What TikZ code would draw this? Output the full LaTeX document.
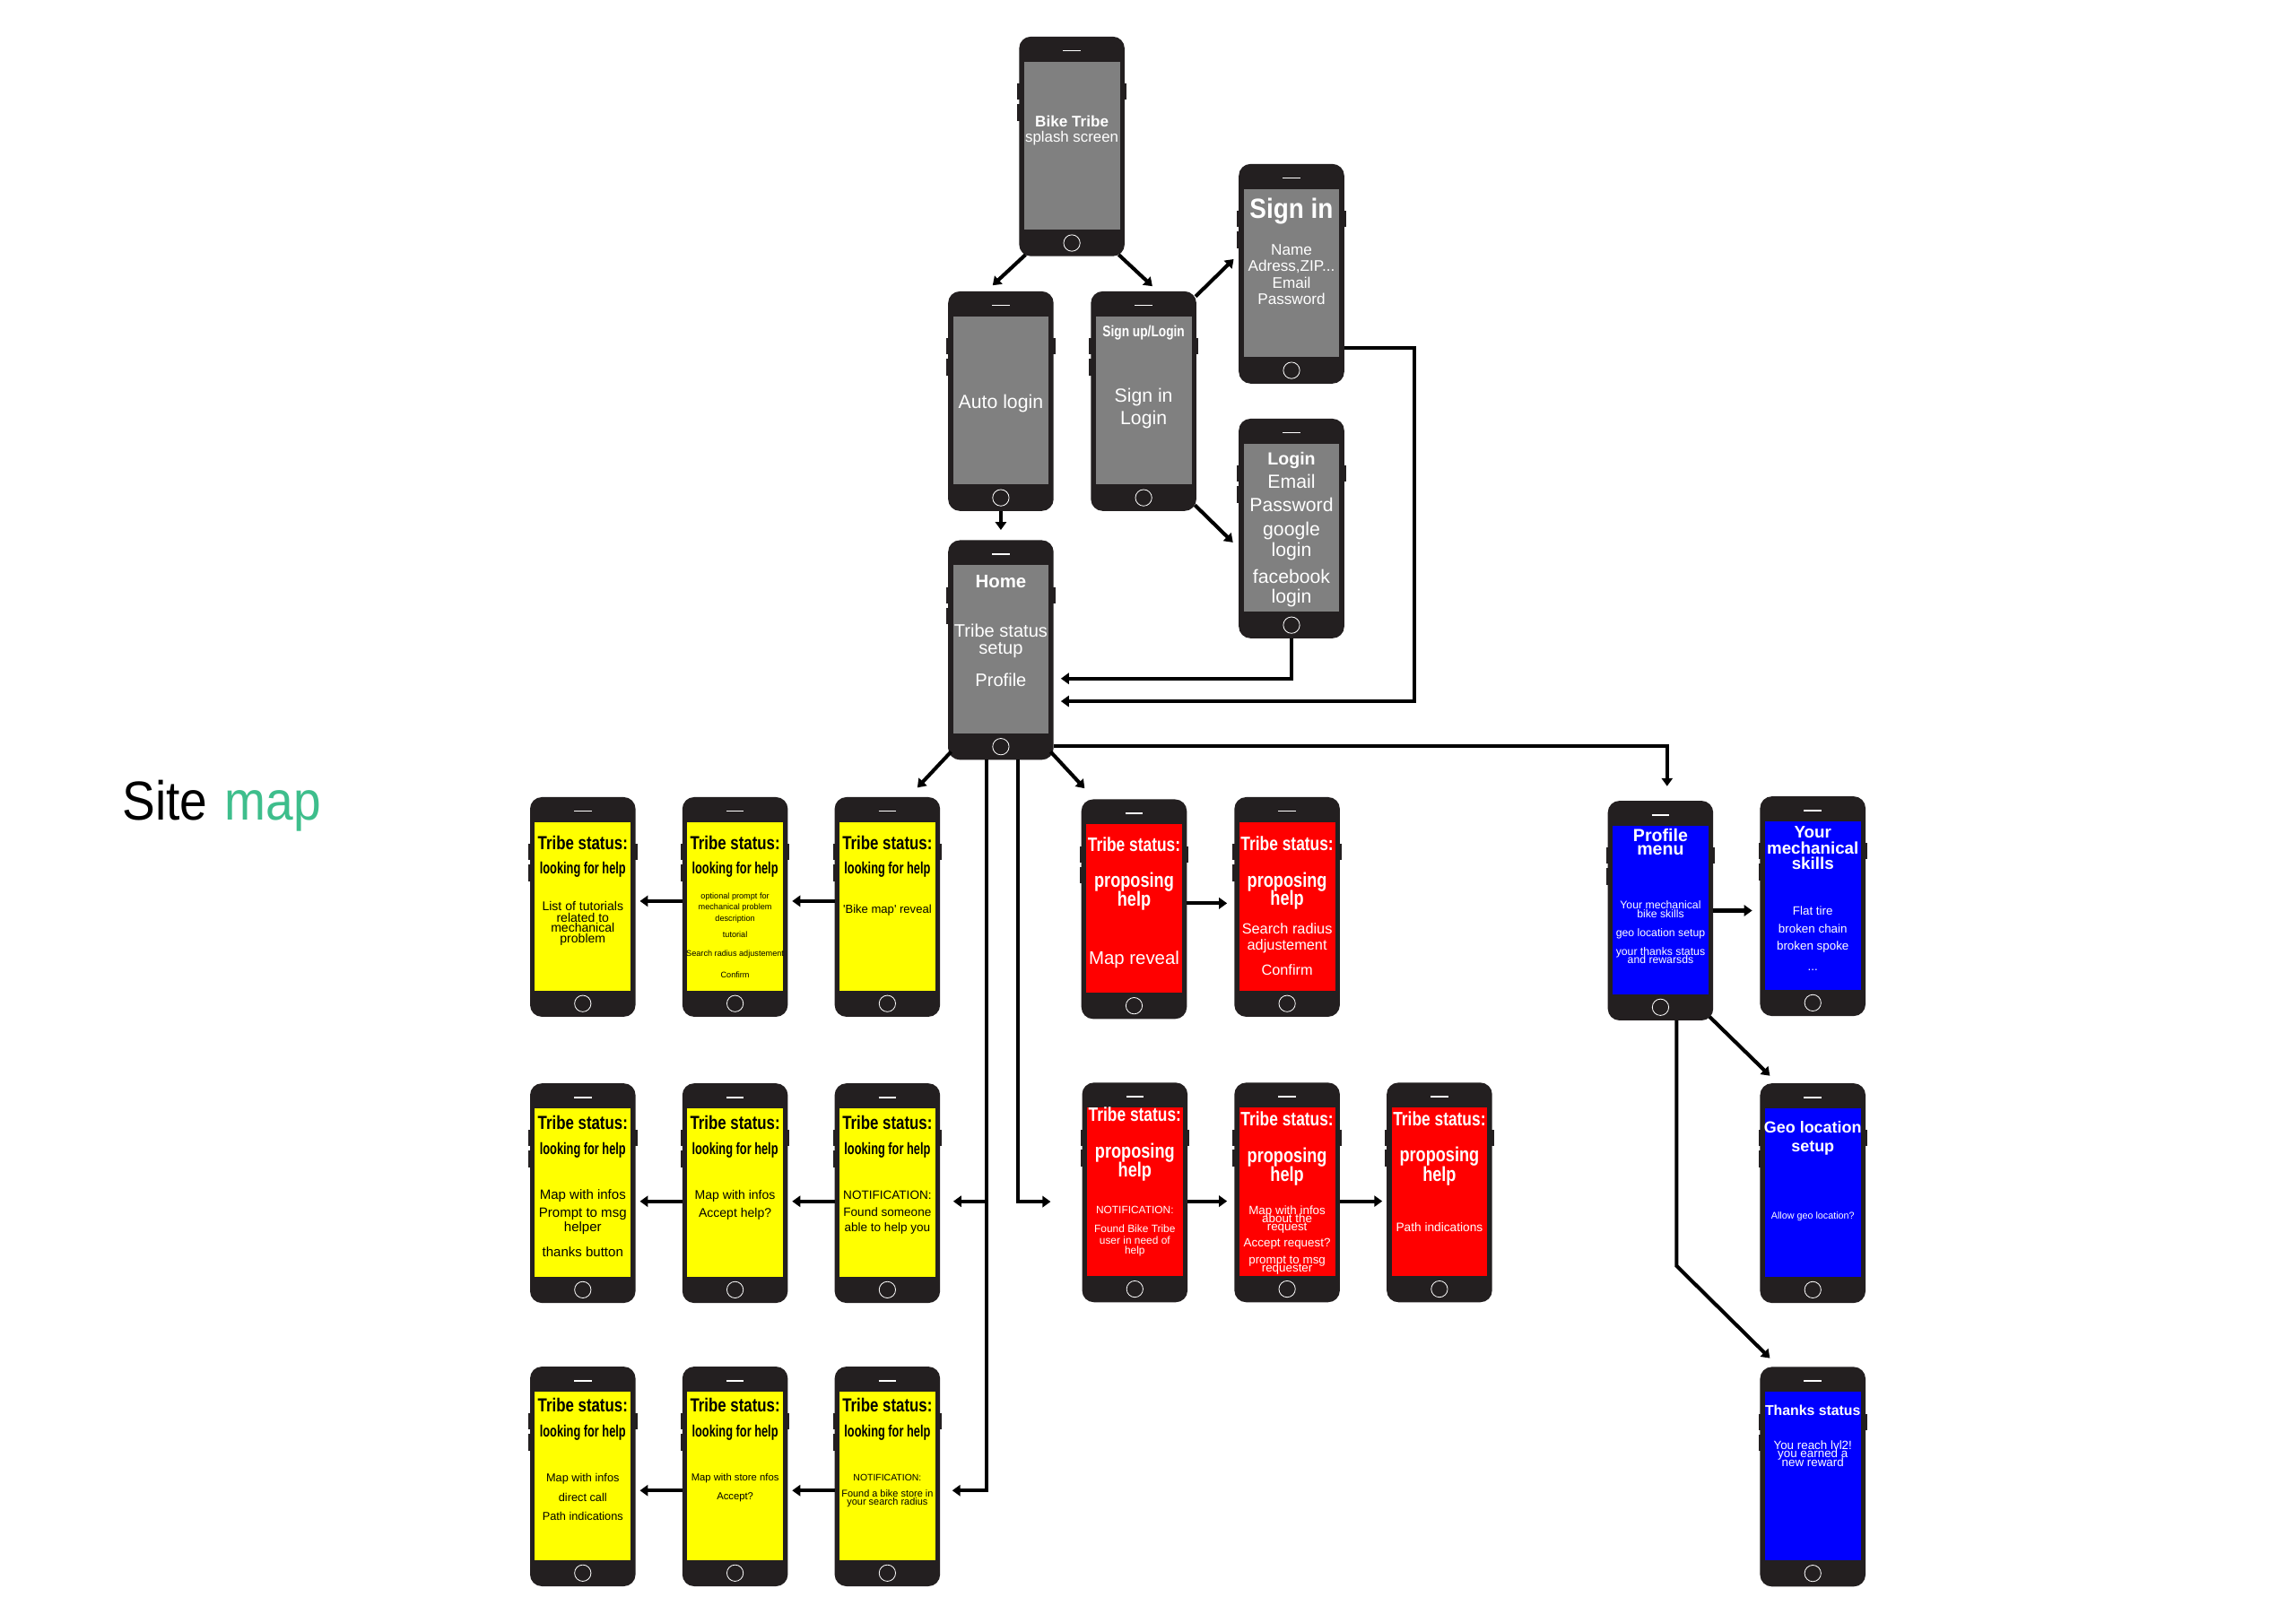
\documentclass[tikz,border=0pt]{standalone}
\usepackage{fontspec}
\setmainfont{Liberation Sans}
\newfontfamily\cnd{Liberation Sans}[FakeStretch=0.8]
\newfontfamily\ccnd{Liberation Sans}[FakeStretch=0.7]
\newfontfamily\tit{Liberation Sans}[FakeStretch=0.9]
\usetikzlibrary{arrows.meta}
\definecolor{phonedark}{HTML}{231F20}
\definecolor{scrgray}{HTML}{808080}
\definecolor{scryellow}{HTML}{FFFF00}
\definecolor{scrred}{HTML}{FF0000}
\definecolor{scrblue}{HTML}{0000FF}
\definecolor{mapgreen}{RGB}{62,190,140}
\tikzset{
  phonebody/.style={rectangle, rounded corners=8pt, fill=phonedark, minimum width=72pt, minimum height=150pt, inner sep=0pt, outer sep=0pt, draw=none},
  txtline/.style={anchor=base, inner sep=0pt, outer sep=0pt},
  arr/.style={line width=2.5pt, -{Triangle[length=5.5pt,width=7.5pt]}},
}
\newcounter{tlc}
\newcommand{\txl}[5]{\stepcounter{tlc}\node[txtline,text=#4] (tx\arabic{tlc}) at (#1,{#2+0.35*#3}) {\fontsize{#3}{#3}\selectfont #5};}
\newcommand{\phone}[4]{%
  \begin{scope}[shift={(#2,#3)}]
    \fill[phonedark] (-1.2,32) rectangle (1,43);
    \fill[phonedark] (-1.2,46) rectangle (1,57.5);
    \fill[phonedark] (71,32) rectangle (73.2,43);
    \node[phonebody] (#1) at (36,75) {};
    \fill[#4] (3.3,17) rectangle (68.7,132);
    \draw[white,line width=1pt] (30,9.6) -- (42,9.6);
    \draw[white,line width=0.5pt] (36,141) circle (5.6);
  \end{scope}}
\newcommand{\yhead}[3]{\txl{#1}{#2}{12.9}{black}{\cnd\bfseries Tribe status:}\txl{#1}{#3}{11.2}{black}{\ccnd\bfseries looking for help}}
\newcommand{\rhead}[4]{\txl{#1}{#2}{13.3}{white}{\cnd\bfseries Tribe status:}\txl{#1}{#3}{13.9}{white}{\cnd\bfseries proposing}\txl{#1}{#4}{13.9}{white}{\cnd\bfseries help}}
\begin{document}
\begin{tikzpicture}[x=1pt,y=-1pt]
\fill[white] (0,0) rectangle (1568,1108.6);
\useasboundingbox (0,0) rectangle (1568,1108.6);

% title
\node[anchor=base west, inner sep=0pt] (title) at (83.3,560.3) {\fontsize{37.5}{37.5}\selectfont\tit Site\hspace{12pt}\textcolor{mapgreen}{map}};

% phones
\phone{splash}{696}{25}{scrgray}
\phone{auto}{647.5}{199}{scrgray}
\phone{signup}{745}{199}{scrgray}
\phone{signin}{846}{112}{scrgray}
\phone{login}{846}{286}{scrgray}
\phone{home}{647.5}{369}{scrgray}
\phone{ya1}{362}{544.5}{scryellow}
\phone{ya2}{466}{544.5}{scryellow}
\phone{ya3}{570}{544.5}{scryellow}
\phone{ra1}{738.5}{546}{scrred}
\phone{ra2}{843}{544.5}{scrred}
\phone{prof}{1098}{547}{scrblue}
\phone{skills}{1202}{544}{scrblue}
\phone{yb1}{362}{740}{scryellow}
\phone{yb2}{466}{740}{scryellow}
\phone{yb3}{570}{740}{scryellow}
\phone{rb1}{739}{739.5}{scrred}
\phone{rb2}{843}{739.5}{scrred}
\phone{rb3}{947}{739.5}{scrred}
\phone{geo}{1202}{740}{scrblue}
\phone{yc1}{362}{933.5}{scryellow}
\phone{yc2}{466}{933.5}{scryellow}
\phone{yc3}{570}{933.5}{scryellow}
\phone{thanks}{1202}{933.7}{scrblue}

% texts: splash, auto, signup
\txl{732}{82.7}{10.5}{white}{\bfseries Bike Tribe}
\txl{732}{93.6}{10.3}{white}{splash screen}
\txl{683.5}{274.7}{13}{white}{Auto login}
\txl{781}{226.6}{10.5}{white}{\cnd\bfseries Sign up/Login}
\txl{781}{269.9}{13}{white}{Sign in}
\txl{781}{285.4}{13}{white}{Login}
% sign in
\txl{882}{142.7}{19}{white}{\tit\bfseries Sign in}
\txl{882}{170.6}{10.5}{white}{Name}
\txl{882}{181.8}{10.5}{white}{Adress,ZIP...}
\txl{882}{193.1}{10.5}{white}{Email}
\txl{882}{204}{10.5}{white}{Password}
% login
\txl{882}{313.3}{12}{white}{\bfseries Login}
\txl{882}{329}{13}{white}{Email}
\txl{882}{344.6}{13}{white}{Password}
\txl{882}{361.7}{13}{white}{google}
\txl{882}{375.6}{13}{white}{login}
\txl{882}{394}{13}{white}{facebook}
\txl{882}{407.2}{13}{white}{login}
% home
\txl{683.5}{397.4}{12.5}{white}{\bfseries Home}
\txl{683.5}{431.1}{12.3}{white}{Tribe status}
\txl{683.5}{442.5}{12.3}{white}{setup}
\txl{683.5}{464.4}{12.3}{white}{Profile}

% yellow row 1
\yhead{398}{575.6}{593}
\yhead{502}{575.6}{593}
\yhead{606}{575.6}{593}
\txl{398}{618.9}{8.6}{black}{List of tutorials}
\txl{398}{626.7}{8.6}{black}{related to}
\txl{398}{633.8}{8.6}{black}{mechanical}
\txl{398}{641}{8.6}{black}{problem}
\txl{502}{611.8}{5.6}{black}{optional prompt for}
\txl{502}{619.5}{5.6}{black}{mechanical problem}
\txl{502}{627.1}{5.6}{black}{description}
\txl{502}{638.3}{5.6}{black}{tutorial}
\txl{502}{651.1}{5.6}{black}{Search radius adjustement}
\txl{502}{666}{5.6}{black}{Confirm}
\txl{606}{621.1}{8}{black}{\textquotesingle Bike map\textquotesingle{} reveal}

% red row 1
\rhead{774.5}{576.6}{601.1}{614}
\txl{774.5}{654.6}{12.5}{white}{Map reveal}
\rhead{879}{576}{601}{613.6}
\txl{879}{634.4}{10}{white}{Search radius}
\txl{879}{645.4}{10}{white}{adjustement}
\txl{879}{662.4}{10}{white}{Confirm}

% profile menu
\txl{1134}{570.5}{12}{white}{\bfseries Profile}
\txl{1134}{580.1}{12}{white}{\bfseries menu}
\txl{1134}{617.9}{7.5}{white}{Your mechanical}
\txl{1134}{624.2}{7.5}{white}{bike skills}
\txl{1134}{636.9}{7.5}{white}{geo location setup}
\txl{1134}{649.7}{7.5}{white}{your thanks status}
\txl{1134}{655.3}{7.5}{white}{and rewarsds}
% skills
\txl{1238}{568.5}{11.5}{white}{\bfseries Your}
\txl{1238}{579.3}{11.5}{white}{\bfseries mechanical}
\txl{1238}{589.9}{11.5}{white}{\bfseries skills}
\txl{1238}{622.2}{8.2}{white}{Flat tire}
\txl{1238}{634.4}{8.2}{white}{broken chain}
\txl{1238}{646}{8.2}{white}{broken spoke}
\txl{1238}{660.3}{8.2}{white}{...}

% yellow row 2
\yhead{398}{767.1}{784.9}
\yhead{502}{767.1}{784.9}
\yhead{606}{767.1}{784.9}
\txl{398}{815.9}{9.2}{black}{Map with infos}
\txl{398}{828.3}{9.2}{black}{Prompt to msg}
\txl{398}{837.9}{9.2}{black}{helper}
\txl{398}{854.9}{9.2}{black}{thanks button}
\txl{502}{815.9}{8.6}{black}{Map with infos}
\txl{502}{828.7}{8.6}{black}{Accept help?}
\txl{606}{816.1}{8.3}{black}{NOTIFICATION:}
\txl{606}{827.7}{8.3}{black}{Found someone}
\txl{606}{838.3}{8.3}{black}{able to help you}

% red row 2
\rhead{775}{761.4}{786.3}{799.1}
\txl{775}{826.7}{7.3}{white}{NOTIFICATION:}
\txl{775}{839.6}{7.3}{white}{Found Bike Tribe}
\txl{775}{847.1}{7.3}{white}{user in need of}
\txl{775}{854.2}{7.3}{white}{help}
\rhead{879}{764.4}{789.5}{801.8}
\txl{879}{826.7}{8.2}{white}{Map with infos}
\txl{879}{832.4}{8.2}{white}{about the}
\txl{879}{837.9}{8.2}{white}{request}
\txl{879}{848.7}{8.2}{white}{Accept request?}
\txl{879}{860.4}{8.2}{white}{prompt to msg}
\txl{879}{865.9}{8.2}{white}{requester}
\rhead{983}{764.4}{788.8}{801.8}
\txl{983}{838.5}{8.4}{white}{Path indications}

% geo
\txl{1238}{770.1}{11}{white}{\bfseries Geo location}
\txl{1238}{782.7}{11}{white}{\bfseries setup}
\txl{1238}{830.6}{6.6}{white}{Allow geo location?}

% yellow row 3
\yhead{398}{959.8}{977.7}
\yhead{502}{959.8}{977.7}
\yhead{606}{959.8}{977.7}
\txl{398}{1009.4}{7.8}{black}{Map with infos}
\txl{398}{1022.7}{7.8}{black}{direct call}
\txl{398}{1035.5}{7.8}{black}{Path indications}
\txl{502}{1009}{6.9}{black}{Map with store nfos}
\txl{502}{1022.2}{6.9}{black}{Accept?}
\txl{606}{1009}{6.4}{black}{NOTIFICATION:}
\txl{606}{1020.2}{6.7}{black}{Found a bike store in}
\txl{606}{1025.7}{6.7}{black}{your search radius}

% thanks
\txl{1238}{963.4}{9.7}{white}{\bfseries Thanks status}
\txl{1238}{987.1}{8.2}{white}{You reach lvl2!}
\txl{1238}{993}{8.2}{white}{you earned a}
\txl{1238}{998.7}{8.2}{white}{new reward}

% connectors top
\draw[arr] ([xshift=4.3pt,yshift=1pt]splash.south west) -- ([xshift=-5.6pt,yshift=4.1pt]auto.north);
\draw[arr] ([xshift=-4pt,yshift=1pt]splash.south east) -- ([xshift=6pt,yshift=3.5pt]signup.north);
\draw[arr] ([xshift=-0.5pt,yshift=-3.5pt]signup.north east) -- ([xshift=-3.5pt,yshift=10pt]signin.west);
\draw[arr] ([xshift=-1pt,yshift=4pt]signup.south east) -- ([xshift=-4pt,yshift=-9.5pt]login.west);
\draw[arr] (auto.south) -- ([yshift=7pt]home.north);
\draw[arr] (login.south) |- ([xshift=5pt,yshift=-19.5pt]home.east);
\draw[arr] ([yshift=-50.5pt]signin.east) -- ++(48,0) |- ([xshift=5pt,yshift=-35pt]home.east);

% home outgoing
\draw[arr] ([xshift=2pt,yshift=5.5pt]home.south west) -- ([xshift=-15.5pt,yshift=6.5pt]ya3.north east);
\draw[arr] ([xshift=-2pt,yshift=5.5pt]home.south east) -- ([xshift=2.2pt,yshift=7.5pt]ra1.north west);
\draw[arr] ([yshift=9.5pt]home.south east) -| ([xshift=4.5pt,yshift=10pt]prof.north);
\coordinate (trunkA) at ([xshift=-9.6pt]home.south);
\coordinate (trunkB) at ([xshift=11.5pt]home.south);
\coordinate (ybin) at ([xshift=9pt,yshift=-5.6pt]yb3.east);
\coordinate (ycin) at ([xshift=8.3pt,yshift=-9.6pt]yc3.east);
\coordinate (rbin) at ([xshift=-21.5pt,yshift=-6.3pt]rb1.west);
\draw[arr] (trunkA) |- (ycin);
\draw[arr] (trunkA |- ybin) -- (ybin);
\draw[arr] (trunkB) |- (rbin);

% yellow row arrows
\draw[arr] ([yshift=4pt]ya2.west) -- ([xshift=3pt,yshift=4pt]ya1.east);
\draw[arr] ([yshift=4pt]ya3.west) -- ([xshift=3pt,yshift=4pt]ya2.east);
\draw[arr] ([yshift=-5.6pt]yb2.west) -- ([xshift=3pt,yshift=-5.6pt]yb1.east);
\draw[arr] ([yshift=-5.6pt]yb3.west) -- ([xshift=3pt,yshift=-5.6pt]yb2.east);
\draw[arr] ([yshift=-9.6pt]yc2.west) -- ([xshift=3pt,yshift=-9.6pt]yc1.east);
\draw[arr] ([yshift=-9.6pt]yc3.west) -- ([xshift=3pt,yshift=-9.6pt]yc2.east);

% red row arrows
\draw[arr] ([yshift=4pt]ra1.east) -- ([xshift=-5pt,yshift=2.5pt]ra2.west);
\draw[arr] ([yshift=-6pt]rb1.east) -- ([xshift=-5pt,yshift=-6pt]rb2.west);
\draw[arr] ([yshift=-6pt]rb2.east) -- ([xshift=-3pt,yshift=-6pt]rb3.west);

% blue arrows
\draw[arr] (prof.east) -- ([xshift=-5.4pt,yshift=-3pt]skills.west);
\draw[arr] ([xshift=-2.5pt,yshift=2.5pt]prof.south east) -- ([xshift=6.7pt,yshift=5.2pt]geo.north west);
\draw[arr] ([xshift=11pt]prof.south) -- ++(0,167.7) -- ([xshift=6.7pt,yshift=6pt]thanks.north west);
\end{tikzpicture}
\end{document}
